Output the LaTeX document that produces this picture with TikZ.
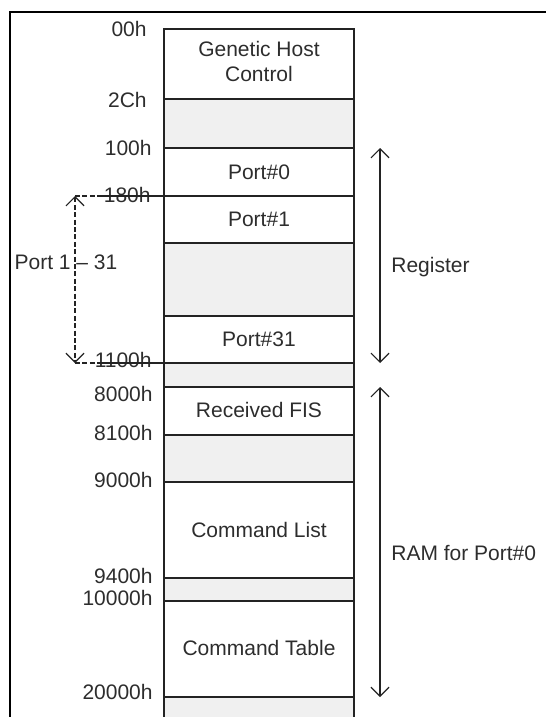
\documentclass[tikz,border=0pt]{standalone}
\usepackage{fontspec}
\setmainfont{Liberation Sans}
\usetikzlibrary{arrows.meta,calc,positioning}

\definecolor{gapgray}{RGB}{240,240,240}
\definecolor{txtgray}{RGB}{45,45,45}
\definecolor{colline}{RGB}{35,35,35}

\tikzset{
  addr/.style = {anchor=east, inner sep=0pt},
  blk/.style = {align=center, inner sep=0pt},
  memline/.style = {draw=colline, line width=0.6pt},
  dashline/.style = {memline, dash pattern=on 2.5pt off 1.2pt},
  span/.style = {draw=colline, line width=0.6pt, {Straight Barb[length=4.5pt,width=9pt]}-{Straight Barb[length=4.5pt,width=9pt]}},
}

\begin{document}
\begin{tikzpicture}[x=0.5pt, y=-0.5pt, font=\fontsize{10.5}{12.5}\selectfont, text=txtgray]

        \useasboundingbox (0,0) rectangle (546,717);

        % frame
        \draw[line width=1pt] (10,717) -- (10,12) -- (546,12);

        % unused gaps
        \fill[gapgray] (164,99) rectangle (354,148);
        \fill[gapgray] (164,243) rectangle (354,316);
        \fill[gapgray] (164,362) rectangle (354,387);
        \fill[gapgray] (164,435) rectangle (354,482);
        \fill[gapgray] (164,578) rectangle (354,601);
        \fill[gapgray] (164,697) rectangle (354,717);

        % memory column
        \draw[memline] (164,717) -- (164,29) -- (354,29) -- (354,717);
        \foreach \y in {99,148,196,243,316,363,387,435,482,578,601,697}
            \draw[memline] (164,\y) -- (354,\y);

        \node [blk] (ghc) at (259,61) {Genetic Host\\Control};
        \node [blk] (p0) at (259,172) {Port\#0};
        \node [blk] (p1) at (259,219) {Port\#1};
        \node [blk] (p31) at (259,339) {Port\#31};
        \node [blk] (fis) at (259,410) {Received FIS};
        \node [blk] (cl) at (259,530) {Command List};
        \node [blk] (ct) at (259,648) {Command Table};

        % addresses
        \node [addr] (a00) at (147,29) {00h};
        \node [addr] (a2c) at (147,100) {2Ch};
        \node [addr] (a100) at (152,148) {100h};
        \node [addr] (a180) at (151,195) {180h};
        \node [addr] (a1100) at (152,360) {1100h};
        \node [addr] (a8000) at (153,394) {8000h};
        \node [addr] (a8100) at (153,433) {8100h};
        \node [addr] (a9000) at (153,480) {9000h};
        \node [addr] (a9400) at (153,576) {9400h};
        \node [addr] (a10000) at (153,598) {10000h};
        \node [addr] (a20000) at (153,692) {20000h};

        % port 1 - 31 range
        \coordinate (ptop) at (75,196);
        \coordinate (pbot) at (75,363);
        \coordinate (ltop) at (100,196);
        \coordinate (lbot) at (97,363);
        \node (prange) at (66,262) {Port 1 -- 31};
        \draw[dashline] (ptop) -- (ltop);
        \draw[dashline] (pbot) -- (lbot);
        \draw[memline] (ltop) -- (164,196);
        \draw[memline] (lbot) -- (164,363);
        \draw[span, dash pattern=on 2.5pt off 1.2pt] (ptop) -- (pbot);

        % register and ram ranges
        \coordinate (rtop) at (380,148);
        \coordinate (rbot) at (380,363);
        \draw[span] (rtop) -- (rbot);
        \node [anchor=west, inner sep=0pt] (reg) at (391,267) {Register};

        \coordinate (mtop) at (380,387);
        \coordinate (mbot) at (380,697);
        \draw[span] (mtop) -- (mbot);
        \node [anchor=west, inner sep=0pt] (ram) at (391,553) {RAM for Port\#0};

\end{tikzpicture}
\end{document}
